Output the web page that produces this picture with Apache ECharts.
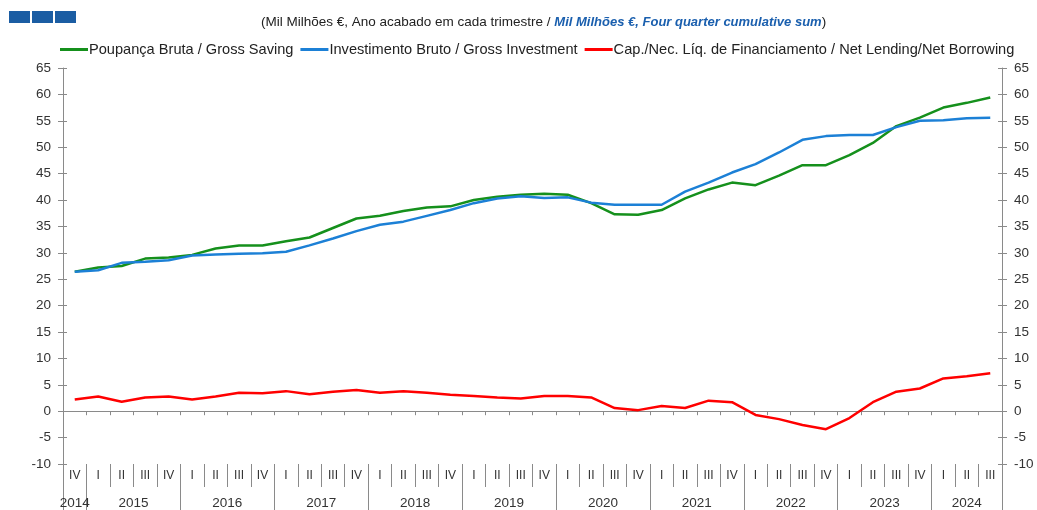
<!DOCTYPE html>
<html>
<head>
<meta charset="utf-8">
<script src="https://cdn.jsdelivr.net/npm/echarts@6/dist/echarts.min.js"></script>
<style>
  html, body { margin: 0; padding: 0; background: #fff; }
  #chart { width: 1037px; height: 510px; }
</style>
</head>
<body>
<div id="chart"></div>
<script>
// quarters 2014 IV .. 2024 III
const quarters = ['IV',
  'I','II','III','IV', 'I','II','III','IV', 'I','II','III','IV',
  'I','II','III','IV', 'I','II','III','IV', 'I','II','III','IV',
  'I','II','III','IV', 'I','II','III','IV', 'I','II','III','IV',
  'I','II','III']
const years = ['2014','2015','2016','2017','2018','2019','2020','2021','2022','2023','2024']

const grossSaving = [26.4, 27.2, 27.5, 28.9, 29.1, 29.6, 30.8, 31.4, 31.4, 32.2,
  32.9, 34.7, 36.5, 37.0, 37.9, 38.6, 38.8, 40.0, 40.6, 41.0,
  41.2, 41.0, 39.4, 37.3, 37.2, 38.1, 40.3, 42.0, 43.3, 42.8,
  44.6, 46.6, 46.6, 48.5, 50.8, 54.0, 55.6, 57.5, 58.4, 59.4]
const grossInvestment = [26.4, 26.7, 28.1, 28.3, 28.6, 29.5, 29.7, 29.8, 29.9, 30.2,
  31.4, 32.7, 34.1, 35.3, 35.9, 37.0, 38.1, 39.4, 40.3, 40.7,
  40.4, 40.5, 39.5, 39.1, 39.1, 39.1, 41.6, 43.3, 45.2, 46.8,
  49.0, 51.4, 52.1, 52.3, 52.3, 53.8, 55.0, 55.1, 55.5, 55.6]
const netLending = [2.2, 2.8, 1.8, 2.6, 2.8, 2.2, 2.8, 3.5, 3.4, 3.8,
  3.2, 3.7, 4.0, 3.5, 3.8, 3.5, 3.1, 2.9, 2.6, 2.4,
  2.9, 2.9, 2.6, 0.6, 0.2, 1.0, 0.6, 2.0, 1.7, -0.7,
  -1.5, -2.6, -3.4, -1.3, 1.7, 3.7, 4.3, 6.2, 6.6, 7.2]

// year axis works in half-quarter steps (0..80)
const yearCenters = [1, 6, 14, 22, 30, 38, 46, 54, 62, 70, 77]
const yearBounds = [0, 2, 10, 18, 26, 34, 42, 50, 58, 66, 74, 80]
const yearSlots = []
for (let i = 0; i <= 80; i++) {
  const k = yearCenters.indexOf(i)
  yearSlots.push(k >= 0 ? years[k] : '')
}

const font = 'Liberation Sans, Arial, sans-serif'
const axisGray = '#8a8a8a'
const textColor = '#333'

const chart = echarts.init(document.getElementById('chart'))
chart.setOption({
  animation: false,
  textStyle: { fontFamily: font },
  title: {
    left: 256,
    top: 10,
    text: '{a|(Mil Milhões €, Ano acabado em cada trimestre / }{b|Mil Milhões €, Four quarter cumulative sum}{a|)}',
    textStyle: {
      fontWeight: 'normal',
      rich: {
        a: { fontSize: 13.5, color: '#222', fontWeight: 'normal', fontFamily: font },
        b: { fontSize: 13, color: '#1a5fae', fontStyle: 'italic', fontWeight: 'bold', fontFamily: font }
      }
    }
  },
  graphic: [
    { type: 'rect', left: 9, top: 11, shape: { width: 21, height: 12 }, style: { fill: '#1b5da3' } },
    { type: 'rect', left: 32, top: 11, shape: { width: 21, height: 12 }, style: { fill: '#1b5da3' } },
    { type: 'rect', left: 55, top: 11, shape: { width: 21, height: 12 }, style: { fill: '#1b5da3' } }
  ],
  legend: {
    left: 55,
    top: 37,
    itemWidth: 28,
    itemHeight: 3,
    itemGap: 7,
    icon: 'rect',
    textStyle: { fontSize: 14.6, color: '#222', fontFamily: font, padding: [0, 0, 0, -4] },
    data: [
      'Poupança Bruta / Gross Saving',
      'Investimento Bruto / Gross Investment',
      'Cap./Nec. Líq. de Financiamento / Net Lending/Net Borrowing'
    ]
  },
  grid: { left: 63, right: 35, top: 68, bottom: 45 },
  xAxis: [
    {
      type: 'category',
      data: quarters,
      axisLine: { onZero: true, lineStyle: { color: axisGray, width: 1 } },
      axisTick: { show: true, interval: 0, length: 4, lineStyle: { color: axisGray } },
      axisLabel: { show: false }
    },
    {
      type: 'category',
      data: quarters,
      position: 'bottom',
      axisLine: { show: false, onZero: false },
      axisTick: { show: true, interval: 0, length: 23, lineStyle: { color: axisGray } },
      axisLabel: { interval: 0, margin: 6, fontSize: 12, color: textColor }
    },
    {
      type: 'category',
      data: yearSlots,
      boundaryGap: false,
      position: 'bottom',
      axisLine: { show: false, onZero: false },
      axisTick: {
        show: true,
        length: 46,
        interval: (i) => yearBounds.indexOf(i) >= 0,
        lineStyle: { color: axisGray }
      },
      axisLabel: {
        interval: (i) => yearCenters.indexOf(i) >= 0,
        margin: 32,
        fontSize: 13.5,
        color: textColor
      }
    }
  ],
  yAxis: [
    {
      type: 'value', position: 'left', min: -10, max: 65, interval: 5,
      axisLine: { show: true, lineStyle: { color: axisGray } },
      axisTick: { show: true, length: 5, lineStyle: { color: axisGray } },
      axisLabel: { fontSize: 13.5, color: textColor, margin: 12 },
      splitLine: { show: false }
    },
    {
      type: 'value', position: 'right', min: -10, max: 65, interval: 5,
      axisLine: { show: true, lineStyle: { color: axisGray } },
      axisTick: { show: true, length: 5, lineStyle: { color: axisGray } },
      axisLabel: { fontSize: 13.5, color: textColor, margin: 12 },
      splitLine: { show: false }
    },
    {
      type: 'value', position: 'left', min: -10, max: 65, interval: 5,
      axisLine: { show: false },
      axisTick: { show: true, inside: true, length: 4, lineStyle: { color: axisGray } },
      axisLabel: { show: false },
      splitLine: { show: false }
    },
    {
      type: 'value', position: 'right', min: -10, max: 65, interval: 5,
      axisLine: { show: false },
      axisTick: { show: true, inside: true, length: 4, lineStyle: { color: axisGray } },
      axisLabel: { show: false },
      splitLine: { show: false }
    }
  ],
  series: [
    {
      name: 'Poupança Bruta / Gross Saving',
      type: 'line', data: grossSaving, symbol: 'none',
      color: '#15901c', lineStyle: { width: 2.5, color: '#15901c' }
    },
    {
      name: 'Investimento Bruto / Gross Investment',
      type: 'line', data: grossInvestment, symbol: 'none',
      color: '#1c80d6', lineStyle: { width: 2.5, color: '#1c80d6' }
    },
    {
      name: 'Cap./Nec. Líq. de Financiamento / Net Lending/Net Borrowing',
      type: 'line', data: netLending, symbol: 'none',
      color: '#ff0000', lineStyle: { width: 2.5, color: '#ff0000' }
    }
  ]
})
</script>
</body>
</html>
